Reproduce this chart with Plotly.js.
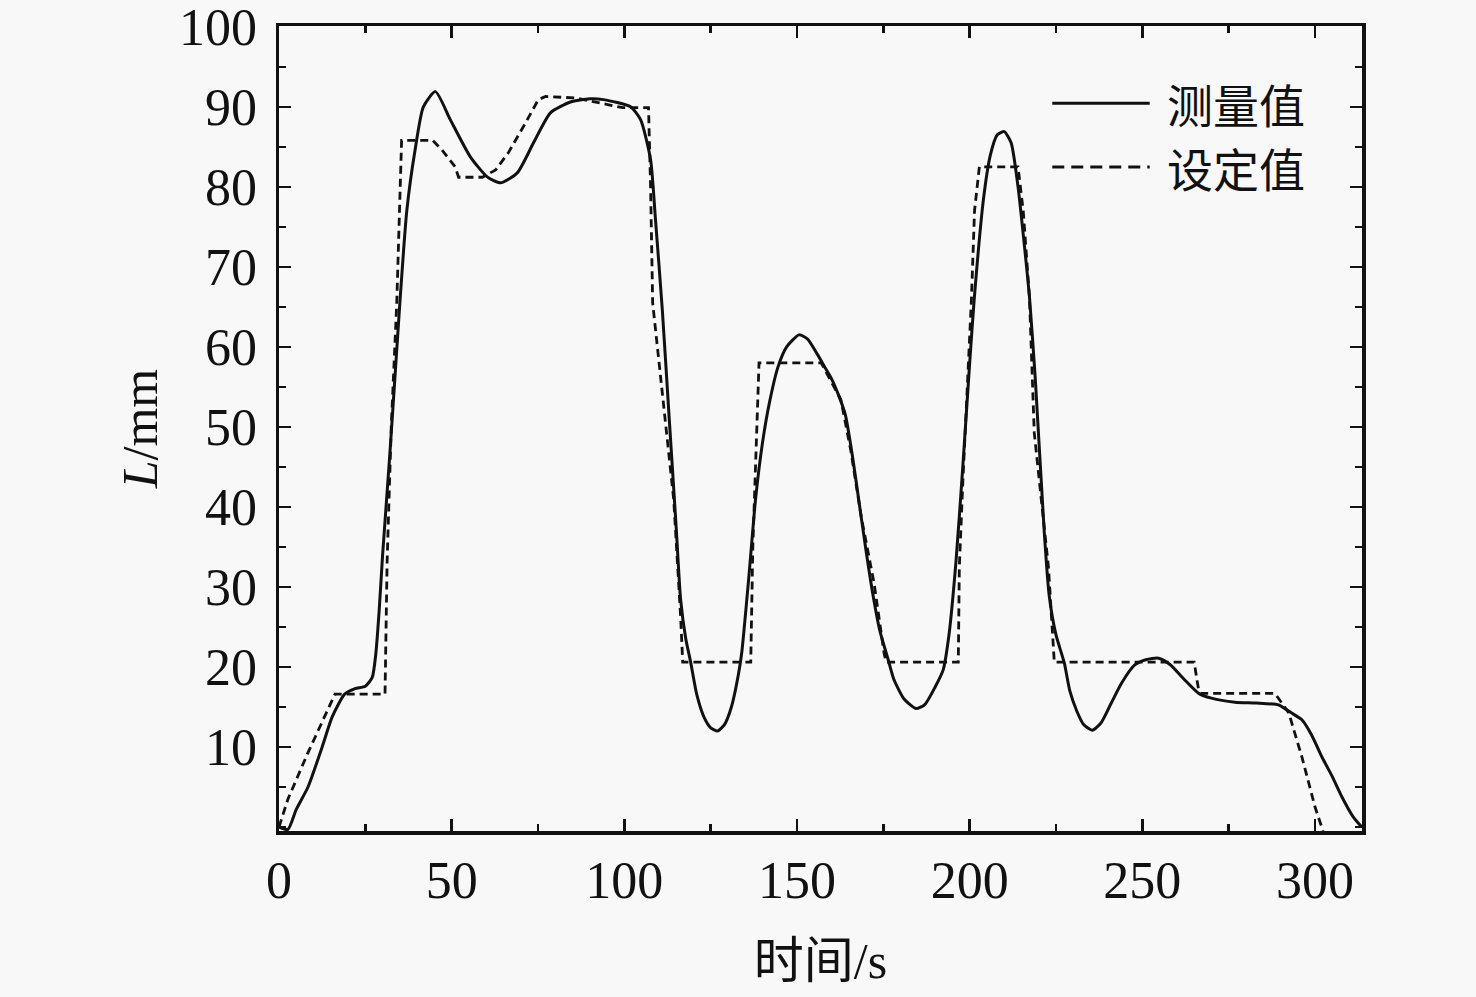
<!DOCTYPE html>
<html>
<head>
<meta charset="utf-8">
<script src="https://cdn.plot.ly/plotly-3.0.1.min.js"></script>
<style>
  html, body { margin: 0; padding: 0; background: #f8f8f8; }
  #chart { width: 1476px; height: 997px; }
</style>
</head>
<body>
<div id="chart"></div>
<script>
// measured level (solid)
const tMeas = [0, 2.6, 5, 8.4, 12.5, 15.4, 19, 22, 25, 27, 28, 29, 30, 32, 34, 35, 37, 39.4, 41.8, 45.3,
  49.6, 55.4, 60.3, 64.1, 69, 73.7, 78.6, 84.4, 90, 94, 101.8, 104.7, 107.6, 109, 111, 113, 115, 116.3, 117.8, 119.2,
  121, 123, 125, 127, 129, 131, 133, 134, 136, 138, 140, 142, 144.5, 147, 150.6, 153, 156, 158, 160, 162, 164, 166,
  168, 170, 172, 174, 176.4, 178, 181, 184.5, 187, 190, 192.3, 194, 196, 198, 200, 201.3, 204, 206, 208, 210,
  212, 214, 216, 217.3, 219, 221.6, 223, 225, 227.4, 229, 231, 233, 235.5, 238, 241, 244, 247.8, 251, 254.7,
  258, 262, 266.3, 270, 276.8, 283, 289.5, 293, 296.2, 299, 302, 305, 307.8, 311, 313.5];
const lMeas = [0, -0.3, 2.2, 5, 10, 13.75, 16.6, 17.3, 17.6, 18.7, 21.5, 27, 34, 46, 59, 65.5, 77, 84.6, 90, 91.9,
  88.4, 83.75, 81.25, 80.5, 81.75, 85.5, 89.25, 90.6, 91, 90.9, 90, 88.4, 83.4, 76, 64.6, 51, 37.5, 28.4, 23.5, 20.6,
  16.5, 13.8, 12.4, 12, 12.8, 15, 19, 21.8, 31, 41, 48, 53, 57.5, 60, 61.5, 61, 59, 57.5, 56, 54, 51.5, 46.5,
  40.5, 34.5, 29, 24.5, 20.9, 18.5, 16, 14.8, 15.3, 17.5, 19.6, 24, 33, 45, 58, 65.9, 78.5, 84, 86.5, 86.9,
  85.5, 80, 72, 66.3, 56, 36.8, 29, 24, 20.5, 17, 14.5, 12.8, 12.1, 13, 15.5, 18, 20.25, 20.9, 21.1,
  20.3, 18.5, 16.7, 16.1, 15.6, 15.5, 15.25, 14.3, 13.4, 11.5, 8.75, 6.3, 3.75, 1.3, 0];

// set value (dashed)
const tSet = [0, 2.6, 8.4, 13.3, 16.2, 30.7, 31.3, 32.5, 34.1, 35.5, 44.5, 47.2, 51, 52, 58.9, 62.7, 66.4, 71.4, 75.1, 77.2,
  86, 95.5, 99.5, 107, 107.6, 108.2, 111, 114.3, 116.3, 116.9, 136.6, 137.2, 139, 157, 162.7, 165.6, 168.6, 172.3, 175.2, 175.8,
  196.7, 197, 198, 200.5, 201.4, 202.8, 214, 215.5, 217.3, 218.7, 222.8, 224.5, 265, 266.3, 267, 288.4, 292.4, 296.2, 300, 302.3];
const lSet = [0, 3.5, 9.3, 13.75, 16.6, 16.6, 33, 50, 65.5, 85.8, 85.8, 84.6, 82.5, 81.2, 81.2, 82.1, 84.25, 88, 90.9, 91.3,
  91.1, 90.25, 89.9, 89.9, 80, 65.5, 54, 40.9, 26.25, 20.6, 20.6, 35, 58, 58, 53.4, 47, 38.75, 30.5, 21.75, 20.6,
  20.6, 32.5, 43, 65.9, 77, 82.5, 82.5, 77, 66.25, 49.25, 32.5, 20.6, 20.6, 17.1, 16.7, 16.7, 14.25, 8.75, 2.5, -0.5];

const xTicks = [0, 50, 100, 150, 200, 250, 300];
const yTicks = [10, 20, 30, 40, 50, 60, 70, 80, 90, 100];
const seriesNames = ['测量值', '设定值'];

const serif = '"Liberation Serif", "Times New Roman", "Noto Sans CJK SC", serif';
const ink = '#111111';

const traces = [
  {
    x: tMeas, y: lMeas, name: seriesNames[0], type: 'scatter', mode: 'lines',
    line: { color: ink, width: 3, shape: 'spline', smoothing: 0.6 },
  },
  {
    x: tSet, y: lSet, name: seriesNames[1], type: 'scatter', mode: 'lines',
    line: { color: ink, width: 2.8, dash: '8px,5px' },
  },
];

const axisCommon = {
  showgrid: false,
  zeroline: false,
  showline: true,
  linecolor: ink,
  linewidth: 3.5,
  mirror: 'ticks',
  ticks: 'inside',
  tickcolor: ink,
  tickwidth: 2.5,
  ticklen: 12,
  ticklabeloverflow: 'allow',
  tickfont: { family: serif, size: 52, color: ink },
};

// hand-made legend, line sample longer than plotly's own
const legendRows = [0.904, 0.825];
const legendShapes = [
  { type: 'line', xref: 'paper', yref: 'paper', x0: 0.714, x1: 0.804, y0: legendRows[0], y1: legendRows[0],
    line: { color: ink, width: 3 } },
  { type: 'line', xref: 'paper', yref: 'paper', x0: 0.714, x1: 0.804, y0: legendRows[1], y1: legendRows[1],
    line: { color: ink, width: 3, dash: '12px,7px' } },
];
const legendNotes = seriesNames.map((name, i) => ({
  text: name, xref: 'paper', yref: 'paper', x: 0.819, y: legendRows[i],
  xanchor: 'left', yanchor: 'middle', showarrow: false, borderpad: 0,
  font: { family: '"Noto Sans CJK SC", serif', size: 46, color: ink },
}));

const layout = {
  width: 1476,
  height: 997,
  paper_bgcolor: '#f8f8f8',
  plot_bgcolor: '#f8f8f8',
  showlegend: false,
  margin: { l: 279, r: 114, t: 26, b: 166 },
  xaxis: Object.assign({}, axisCommon, {
    range: [0, 313.6],
    tickvals: xTicks,
    ticklabelstandoff: 1,
    minor: { dtick: 25, ticks: 'inside', ticklen: 7, tickwidth: 2.5, tickcolor: ink },
    title: { text: '时间/s', standoff: 36, font: { family: serif, size: 50, color: ink } },
  }),
  yaxis: Object.assign({}, axisCommon, {
    range: [-0.5, 100.1],
    tickvals: yTicks,
    ticklabelstandoff: 8,
    minor: { dtick: 5, ticks: 'inside', ticklen: 7, tickwidth: 2.5, tickcolor: ink },
    title: { text: '<i>L</i>/mm', standoff: 6, font: { family: serif, size: 50, color: ink } },
  }),
  shapes: legendShapes,
  annotations: legendNotes,
};

Plotly.newPlot('chart', traces, layout, { displayModeBar: false, staticPlot: true });
</script>
</body>
</html>
